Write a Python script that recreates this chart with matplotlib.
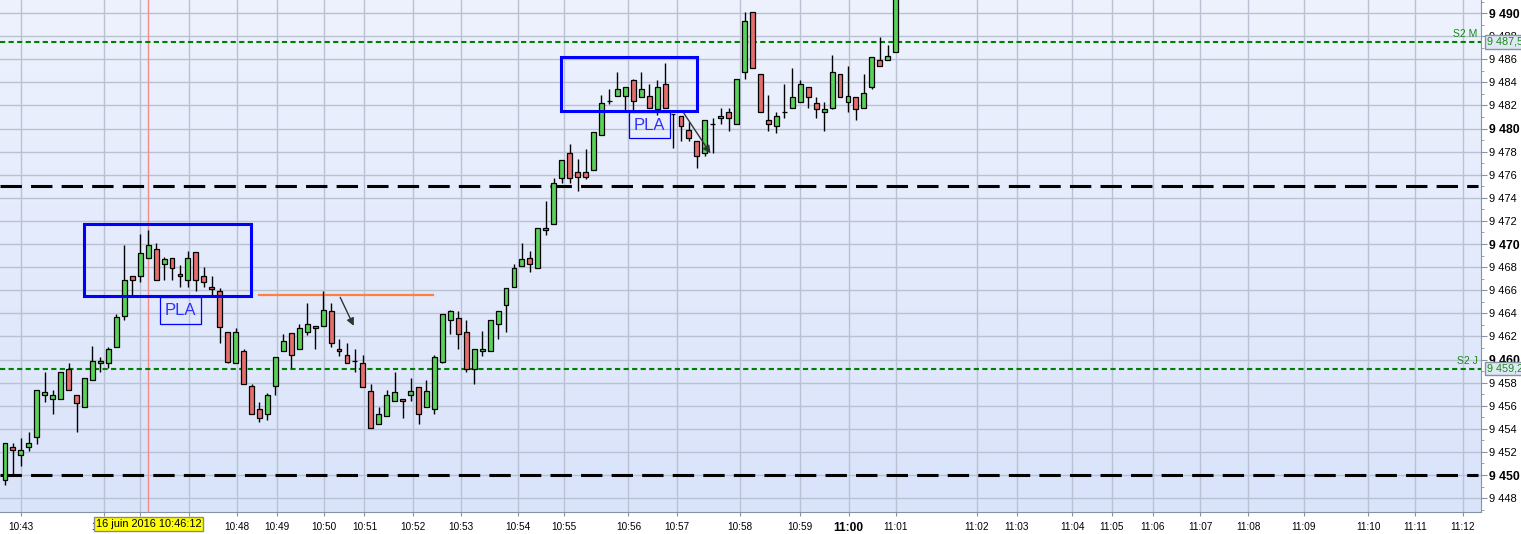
import numpy as np
import matplotlib
matplotlib.use("Agg")
from matplotlib import pyplot as plt
from matplotlib.colors import LinearSegmentedColormap
from matplotlib.patches import Rectangle

plt.rcParams['font.family'] = ['Liberation Sans', 'DejaVu Sans']

# candles (tick chart, one bar per slot)
opens = [9449.6, 9452.4, 9451.7, 9452.4, 9453.3, 9456.9, 9456.6, 9456.6, 9459.2, 9456.9,
         9455.9, 9458.2, 9459.7, 9459.7, 9461.1, 9463.8, 9467.2, 9467.2, 9468.8, 9469.6,
         9468.3, 9468.8, 9467.4, 9466.9, 9469.3, 9467.2, 9466.3, 9465.9, 9462.4, 9459.7,
         9460.7, 9457.7, 9455.7, 9455.3, 9457.7, 9460.7, 9462.3, 9460.9, 9462.4, 9462.9,
         9462.9, 9464.2, 9460.9, 9460.4, 9459.9, 9459.7, 9457.3, 9454.4, 9455.1, 9456.4,
         9456.6, 9456.9, 9457.6, 9455.9, 9455.7, 9459.8, 9463.4, 9463.6, 9462.4, 9459.2,
         9460.7, 9460.7, 9463.1, 9464.7, 9466.3, 9468.1, 9468.8, 9467.9, 9471.2, 9471.7,
         9475.7, 9477.9, 9476.2, 9476.2, 9476.4, 9479.4, 9482.4, 9482.8, 9482.8, 9484.2,
         9482.7, 9482.8, 9481.7, 9483.9, 9481.3, 9481.1, 9479.9, 9478.9, 9477.9, 9480.4,
         9480.9, 9481.4, 9480.4, 9484.9, 9490.1, 9484.7, 9480.7, 9480.2, 9481.4, 9481.8,
         9482.3, 9483.6, 9482.2, 9481.4, 9481.8, 9484.7, 9482.3, 9482.7, 9481.8, 9483.6,
         9485.9, 9485.9, 9486.6]
highs = [9452.8, 9452.8, 9453.2, 9453.7, 9457.4, 9458.9, 9457.4, 9458.9, 9459.7, 9456.9,
         9458.4, 9461.2, 9460.2, 9461.1, 9463.9, 9469.9, 9467.2, 9470.9, 9471.2, 9470.1,
         9468.9, 9468.8, 9468.2, 9469.4, 9469.3, 9468.0, 9467.2, 9466.2, 9462.4, 9462.7,
         9460.9, 9457.9, 9456.3, 9457.1, 9460.2, 9462.2, 9462.3, 9463.1, 9464.9, 9462.9,
         9465.9, 9464.9, 9461.8, 9461.4, 9460.9, 9460.4, 9457.9, 9455.9, 9457.4, 9458.9,
         9456.6, 9458.4, 9457.6, 9458.2, 9460.4, 9463.9, 9464.3, 9464.2, 9463.4, 9460.9,
         9462.5, 9463.4, 9464.2, 9466.2, 9468.3, 9470.1, 9469.4, 9471.4, 9473.7, 9475.7,
         9477.3, 9478.7, 9477.4, 9478.2, 9479.7, 9482.9, 9483.4, 9484.9, 9483.6, 9484.3,
         9484.9, 9483.9, 9484.2, 9485.7, 9481.3, 9481.1, 9480.6, 9478.9, 9480.7, 9480.9,
         9481.8, 9481.8, 9484.3, 9490.1, 9490.1, 9484.7, 9482.9, 9481.4, 9483.9, 9485.2,
         9484.2, 9483.6, 9482.7, 9482.3, 9486.4, 9484.7, 9485.4, 9482.7, 9484.7, 9486.2,
         9487.9, 9487.2, 9492.0]
lows = [9449.1, 9449.9, 9450.8, 9452.1, 9452.7, 9456.3, 9455.3, 9456.6, 9457.4, 9453.7,
        9455.9, 9458.2, 9458.9, 9459.3, 9461.1, 9463.4, 9465.4, 9466.7, 9468.8, 9466.9,
        9466.9, 9466.9, 9466.3, 9466.3, 9465.9, 9466.3, 9465.4, 9461.4, 9459.7, 9459.7,
        9457.9, 9455.3, 9454.6, 9454.8, 9456.9, 9460.7, 9459.3, 9460.9, 9462.1, 9460.9,
        9462.9, 9461.1, 9460.3, 9459.7, 9458.9, 9457.6, 9454.1, 9454.4, 9455.1, 9456.4,
        9454.9, 9456.4, 9454.4, 9455.9, 9455.3, 9459.7, 9462.2, 9460.9, 9458.9, 9457.9,
        9460.3, 9460.7, 9461.8, 9462.4, 9466.3, 9468.1, 9467.6, 9467.9, 9470.8, 9471.7,
        9475.3, 9475.3, 9474.6, 9475.6, 9476.4, 9479.4, 9482.1, 9482.8, 9481.5, 9481.5,
        9482.7, 9481.8, 9481.2, 9481.8, 9478.3, 9478.9, 9478.9, 9476.6, 9477.6, 9477.9,
        9480.4, 9479.8, 9480.4, 9484.3, 9485.2, 9481.4, 9479.8, 9479.6, 9480.9, 9481.8,
        9482.3, 9481.8, 9480.9, 9479.8, 9481.7, 9482.7, 9481.4, 9480.7, 9481.8, 9483.4,
        9485.4, 9485.9, 9486.6]
closes = [9452.8, 9452.2, 9452.2, 9452.8, 9457.4, 9457.2, 9456.9, 9458.9, 9457.4, 9456.2,
          9458.4, 9459.9, 9459.9, 9460.9, 9463.7, 9466.9, 9466.9, 9469.2, 9469.9, 9466.9,
          9468.7, 9467.9, 9467.2, 9468.8, 9466.9, 9466.7, 9466.1, 9462.8, 9459.8, 9462.4,
          9457.9, 9455.3, 9454.9, 9456.9, 9460.2, 9461.6, 9460.4, 9462.7, 9463.1, 9462.7,
          9464.3, 9461.4, 9460.7, 9459.7, 9459.9, 9457.6, 9454.1, 9455.3, 9456.9, 9457.2,
          9456.4, 9457.3, 9455.3, 9457.3, 9460.2, 9463.9, 9464.2, 9462.2, 9459.2, 9460.9,
          9460.9, 9463.4, 9464.2, 9466.2, 9467.9, 9468.7, 9468.3, 9471.4, 9471.4, 9475.3,
          9477.3, 9475.7, 9475.8, 9475.8, 9479.7, 9482.2, 9482.4, 9483.4, 9483.6, 9482.4,
          9483.4, 9481.8, 9483.6, 9481.8, 9481.3, 9480.2, 9479.2, 9477.6, 9480.7, 9480.4,
          9481.1, 9480.9, 9484.3, 9489.3, 9485.2, 9481.4, 9480.4, 9481.1, 9481.4, 9482.7,
          9483.9, 9482.7, 9481.7, 9481.7, 9484.9, 9482.7, 9482.8, 9481.7, 9483.1, 9486.2,
          9485.4, 9486.3, 9492.0]

# time labels and the bar slot where each one falls
# (10:46 and 10:47 sit under the crosshair tag, so their text is left empty)
time_labels = ['10:43', '10:45', '', '', '10:48', '10:49', '10:50', '10:51', '10:52',
               '10:53', '10:54', '10:55', '10:56', '10:57', '10:58', '10:59', '11:00', '11:01',
               '11:02', '11:03', '11:04', '11:05', '11:06', '11:07', '11:08', '11:09', '11:10',
               '11:11', '11:12']
time_pos = [2.0, 12.45, 17.0, 23.1, 29.2, 34.2, 40.1, 45.2, 51.25, 57.3, 64.5, 70.3, 78.4,
            84.5, 92.4, 100.0, 106.1, 112.0, 122.2, 127.25, 134.2, 139.2, 144.3, 150.3,
            156.3, 163.3, 171.4, 177.3, 183.3]

# horizontal levels
black_levels = [9475, 9450]
s2_levels = [9487.5, 9459.2]
s2_names = ['S2 M', 'S2 J']
s2_text = ['9 487,5', '9 459,2']
orange_level = 9465.6

# PLA zones (slot from, slot to, low, high)
zones = [(9.93, 30.93, 9465.5, 9471.73), (69.9, 87.0, 9481.5, 9486.2)]
pla_boxes = [(19.53, 24.68, 9463.05, 9465.39), (78.5, 83.66, 9479.15, 9481.4)]
arrows = [((42.0, 9465.6), (44.0, 9462.7)), ((85.1, 9481.6), (88.9, 9477.65))]

W, H = 1521, 534
fig = plt.figure(figsize=(W / 100, H / 100), dpi=100, facecolor='white')
ax = fig.add_axes([0, 22 / H, 1481 / W, 512 / H])

x0, x1 = -0.63, 185.6
y0, y1 = 9446.8, 9491.13
ax.set_xlim(x0, x1)
ax.set_ylim(y0, y1)

# background gradient
cmap = LinearSegmentedColormap.from_list('bg', ['#eef2fe', '#d9e3fa'])
ax.imshow(np.linspace(0, 1, 256).reshape(-1, 1), cmap=cmap, aspect='auto',
          extent=[x0, x1, y0, y1], zorder=0)

grid_col = '#b9c1d2'
for v in np.arange(9448, 9491, 2):
    ax.axhline(v, color=grid_col, lw=1, zorder=1)
for p in time_pos:
    ax.axvline(p, color=grid_col, lw=1, zorder=1)

# crosshair
ax.axvline(17.98, color='#f28b8b', lw=1, zorder=1.5)

# levels
for lv in black_levels:
    ax.plot([x0, 185.2], [lv, lv], color='black', lw=2.2, ls=(0, (7, 3)), zorder=2)
for lv, nm in zip(s2_levels, s2_names):
    ax.plot([x0, x1], [lv, lv], color='#008000', lw=1.5, ls=(0, (2.5, 1.6)), zorder=2)
    ax.text(185.2, lv + 0.25, nm, color='#1a8a1a', fontsize=7.5, ha='right', va='bottom', zorder=6)

ax.plot([31.94, 53.82], [orange_level] * 2, color='#ff7f3f', lw=1.6, zorder=2)

# candles
idx = np.arange(len(opens))
o = np.array(opens)
c = np.array(closes)
up = c >= o
cols = np.where(up, '#5ad25a', '#e66e6e')
ax.vlines(idx, lows, highs, color='black', lw=1, zorder=3)
ax.bar(idx, c - o, bottom=o, width=0.62, color=cols, edgecolor='black', lw=0.9, zorder=4)

# PLA zones
for a, b, lo, hi in zones:
    ax.add_patch(Rectangle((a, lo), b - a, hi - lo, fill=False, ec='#0000ff', lw=2.2, zorder=5))
for a, b, lo, hi in pla_boxes:
    ax.add_patch(Rectangle((a, lo), b - a, hi - lo, fill=False, ec='#0000ff', lw=0.9, zorder=5))
    ax.text((a + b) / 2, (lo + hi) / 2, 'PLA', color='#2f2fff', fontsize=12,
            ha='center', va='center', zorder=5)

for start, end in arrows:
    ax.annotate('', xy=end, xytext=start,
                arrowprops=dict(arrowstyle='-|>', color='#333333', lw=1, mutation_scale=11),
                zorder=6)

# axes styling
for s in ['top', 'left']:
    ax.spines[s].set_visible(False)
for s in ['bottom', 'right']:
    ax.spines[s].set_color('#8494a6')
ax.yaxis.tick_right()
yt = list(range(9448, 9491, 2))
ax.set_yticks(yt, labels=[f"{v:,}".replace(',', ' ') for v in yt])
ax.set_yticks(range(9447, 9492), minor=True)
ax.tick_params(axis='y', which='both', colors='#8494a6', labelcolor='black', pad=2)
ax.tick_params(axis='y', which='major', length=4, labelsize=8)
ax.tick_params(axis='y', which='minor', length=2.5)
for lbl, v in zip(ax.get_yticklabels(), yt):
    if v % 10 == 0:
        lbl.set_fontweight('bold')
        lbl.set_fontsize(8.8)

ax.set_xticks(time_pos, labels=time_labels)
ax.tick_params(axis='x', length=3, colors='#8494a6', labelcolor='black', labelsize=7.2, pad=4)
for lbl in ax.get_xticklabels():
    if lbl.get_text() == '11:00':
        lbl.set_fontweight('bold')
        lbl.set_fontsize(8.6)

# value tags on the price axis
for lv, txt in zip(s2_levels, s2_text):
    ax.annotate(txt, xy=(1.0, lv), xycoords=('axes fraction', 'data'),
                xytext=(4, 0), textcoords='offset points', ha='left', va='center',
                fontsize=7.8, color='#1a8a1a', annotation_clip=False, zorder=10,
                bbox=dict(boxstyle='square,pad=0.15', fc='#dfe7f5', ec='#8494a6', lw=1))

# crosshair time tag
fig.text(148.5 / W, 1 - 524 / H, '16 juin 2016 10:46:12', fontsize=7.9, ha='center', va='center',
         color='black', zorder=20,
         bbox=dict(boxstyle='square,pad=0.18', fc='#ffff00', ec='#8a8a8a', lw=1))

fig.savefig('out.png', dpi=100, facecolor='white')
